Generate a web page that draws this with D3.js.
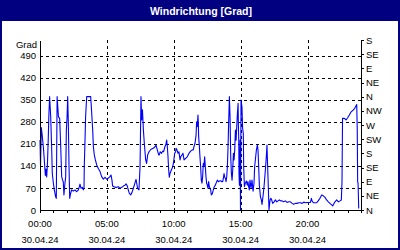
<!DOCTYPE html>
<html>
<head>
<meta charset="utf-8">
<script src="https://cdn.jsdelivr.net/npm/d3@7/dist/d3.min.js"></script>
<style>
html,body{margin:0;padding:0;background:#fff;}
svg{display:block;}
text{font-family:"Liberation Sans",Arial,sans-serif;}
</style>
</head>
<body>
<svg id="chart" width="400" height="250"></svg>
<script>
// ---- data ----
const title = "Windrichtung [Grad]";
const unitLabel = "Grad";
const hours = [0.00,0.04,0.10,0.17,0.25,0.32,0.40,0.45,0.50,0.56,0.62,0.66,0.72,0.80,0.87,0.92,1.00,1.07,1.17,1.22,1.28,1.38,1.47,1.55,1.62,1.69,1.74,1.79,1.84,1.92,1.97,2.02,2.07,2.12,2.17,2.22,2.29,2.37,2.49,2.62,2.74,2.87,2.94,2.99,3.07,3.17,3.24,3.29,3.31,3.36,3.41,3.49,3.79,3.86,3.94,3.99,4.06,4.14,4.24,4.36,4.49,4.61,4.74,4.86,4.98,5.11,5.23,5.31,5.38,5.43,5.53,5.63,5.73,5.86,5.98,6.11,6.23,6.36,6.43,6.53,6.60,6.68,6.78,6.88,6.98,7.08,7.18,7.23,7.30,7.40,7.48,7.55,7.60,7.66,7.73,7.80,7.90,7.97,8.05,8.15,8.30,8.47,8.60,8.67,8.77,8.87,8.92,8.99,9.09,9.17,9.24,9.34,9.42,9.47,9.52,9.57,9.62,9.67,9.72,9.82,9.92,9.99,10.07,10.14,10.17,10.24,10.32,10.39,10.47,10.52,10.62,10.69,10.77,10.89,11.01,11.14,11.26,11.39,11.46,11.51,11.59,11.67,11.71,11.76,11.81,11.84,11.86,11.91,11.96,12.01,12.06,12.11,12.16,12.21,12.26,12.31,12.36,12.41,12.46,12.51,12.56,12.61,12.66,12.71,12.76,12.81,12.88,12.96,13.03,13.11,13.18,13.26,13.33,13.41,13.51,13.58,13.66,13.71,13.76,13.81,13.86,13.91,13.96,14.01,14.06,14.11,14.16,14.21,14.26,14.31,14.36,14.41,14.46,14.51,14.56,14.61,14.66,14.71,14.76,14.81,14.83,14.86,14.88,14.91,14.93,14.96,14.99,15.03,15.10,15.15,15.20,15.23,15.28,15.35,15.43,15.50,15.55,15.60,15.65,15.70,15.78,15.85,15.93,16.00,16.05,16.10,16.18,16.25,16.30,16.35,16.40,16.48,16.55,16.60,16.67,16.75,16.85,16.92,16.97,17.02,17.07,17.12,17.20,17.25,17.30,17.40,17.50,17.60,17.70,17.80,17.90,18.00,18.10,18.22,18.35,18.47,18.60,18.72,18.85,18.97,19.10,19.22,19.35,19.47,19.60,19.72,19.85,19.97,20.10,20.22,20.29,20.34,20.44,20.56,20.69,20.81,20.93,21.06,21.18,21.31,21.43,21.56,21.68,21.81,21.88,21.98,22.06,22.18,22.31,22.43,22.53,22.58,22.62,22.76,22.88,23.00,23.13,23.23,23.33,23.43,23.53,23.63,23.68,23.72,23.75,23.78,23.83];
const directions = [222,140,262,235,200,160,110,130,105,150,230,296,360,296,200,116,85,64,42,37,360,296,291,201,106,95,90,48,74,106,254,291,360,275,138,37,53,64,60,64,58,64,74,82,69,72,64,69,138,212,296,360,360,312,254,201,175,159,143,132,122,106,98,104,98,101,106,111,95,76,74,72,72,74,69,72,76,79,83,76,64,53,48,56,69,83,97,85,69,64,138,360,286,318,254,212,159,148,175,185,193,196,201,206,191,175,175,185,180,187,185,201,210,222,201,169,127,104,116,127,137,153,180,185,196,191,180,185,159,169,175,180,159,164,169,180,187,191,191,201,212,238,280,265,302,275,233,206,169,138,95,85,106,148,138,169,138,106,85,79,69,90,74,69,64,48,51,64,74,79,87,95,90,92,93,90,90,101,116,104,101,90,106,138,201,286,360,296,169,117,95,127,180,159,191,254,222,265,307,339,275,222,116,79,127,222,0,349,328,259,243,137,74,85,92,79,90,74,64,95,69,95,60,85,138,159,191,206,191,138,79,42,32,18,42,74,127,169,206,138,74,0,32,37,35,21,26,32,26,29,32,29,29,26,29,24,26,26,21,18,21,21,23,23,21,25,23,24,24,24,37,29,23,23,23,30,37,48,45,40,32,26,21,16,13,21,26,32,26,29,32,90,291,291,286,293,302,310,314,318,323,331,335,254,90,85,5];
const leftTicks = [0,70,140,210,280,350,420,490];
const rightTicks = [0,45,90,135,180,225,270,315,360,405,450,495,540];
const rightLabels = ["N","NE","E","SE","S","SW","W","NW","N","NE","E","SE","S"];
const timeTicks = [0,5,10,15,20];
const timeLabels = ["00:00","05:00","10:00","15:00","20:00"];
const dateLabel = "30.04.24";

// ---- drawing ----
const svg = d3.select("#chart");
const L = 40, R = 361, T = 40, B = 210;
const x = d3.scaleLinear().domain([0,24]).range([L,R]);
const y = d3.scaleLinear().domain([0,540]).range([B,T]);

svg.append("rect").attr("x",0).attr("y",0).attr("width",400).attr("height",250).attr("fill","#fff");
svg.append("rect").attr("x",0).attr("y",0).attr("width",400).attr("height",21).attr("fill","#000080");
svg.append("rect").attr("x",1).attr("y",1).attr("width",398).attr("height",248)
  .attr("fill","none").attr("stroke","#000080").attr("stroke-width",2);
svg.append("text").attr("x",201).attr("y",14.5).attr("text-anchor","middle")
  .attr("fill","#fff").attr("font-weight","bold").attr("font-size","10.5px").text(title);

// grid
const grid = svg.append("g").attr("stroke","#000").attr("stroke-dasharray","3,3").attr("shape-rendering","crispEdges");
grid.selectAll("line.h").data(leftTicks.filter(d=>d>0)).join("line")
  .attr("x1",L).attr("x2",R).attr("y1",d=>Math.round(y(d))+0.5).attr("y2",d=>Math.round(y(d))+0.5);
grid.selectAll("line.v").data(timeTicks.filter(d=>d>0)).join("line")
  .attr("y1",T).attr("y2",B).attr("x1",d=>Math.round(x(d))+0.5).attr("x2",d=>Math.round(x(d))+0.5);

// line
const pts = hours.map((h,i)=>[h,directions[i]]);
svg.append("path").datum(pts)
  .attr("fill","none").attr("stroke","#0000ff").attr("stroke-width",1.1)
  .attr("stroke-linejoin","round")
  .attr("d", d3.line().x(d=>x(d[0])).y(d=>y(d[1])));

// axes
const fs = "9.5px";
const axL = svg.append("g").attr("transform",`translate(${L},0)`)
  .call(d3.axisLeft(y).tickValues(leftTicks).tickSize(0).tickPadding(4).tickSizeOuter(0));
const axR = svg.append("g").attr("transform",`translate(${R},0)`)
  .call(d3.axisRight(y).tickValues(rightTicks).tickSize(3).tickPadding(2).tickSizeOuter(0)
    .tickFormat((d,i)=>rightLabels[i]));
const axB = svg.append("g").attr("transform",`translate(0,${B})`)
  .call(d3.axisBottom(x).tickValues(d3.range(0,25)).tickSize(3).tickSizeOuter(0).tickFormat(""));
[axL,axR,axB].forEach(g=>{
  g.selectAll("path,line").attr("stroke","#000").attr("shape-rendering","crispEdges");
  g.selectAll("text").attr("fill","#000").style("font-size",fs).style("font-family",'"Liberation Sans",Arial,sans-serif');
});

svg.append("text").attr("x",37).attr("y",48).attr("text-anchor","end").attr("font-size",fs).attr("fill","#000").text(unitLabel);

const tl = svg.append("g").attr("font-size",fs).attr("fill","#000").attr("text-anchor","middle");
tl.selectAll("text.t").data(timeTicks).join("text").attr("x",d=>x(d)).attr("y",226.5).text((d,i)=>timeLabels[i]);
tl.selectAll("text.d").data(timeTicks).join("text").attr("class","d").attr("x",d=>x(d)).attr("y",242.5).text(dateLabel);
</script>
</body>
</html>
